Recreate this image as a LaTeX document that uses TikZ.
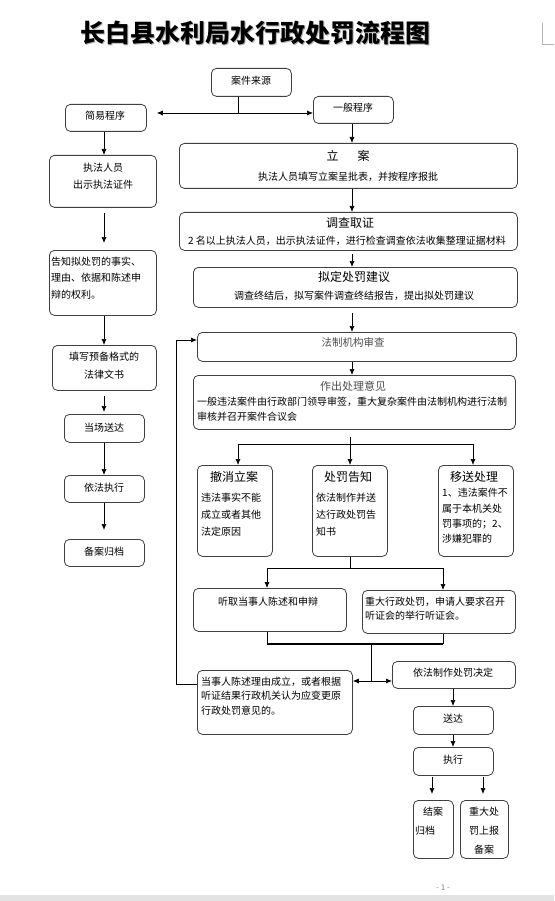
\documentclass[tikz,border=0pt]{standalone}
\usepackage{fontspec}
\setmainfont{Noto Sans CJK SC}
\usetikzlibrary{arrows.meta,calc}
\newcommand\Bx[5]{\node[box,minimum width={#4pt-#2pt},minimum height={#5pt-#3pt}] (#1) at (#2,#3) {};}
\newcommand\Tcen[4]{\node[tx] (#1) at (#2,#3) {#4};}
\newcommand\Tlft[4]{\node[txl] (#1) at (#2,#3) {#4};}
\newcommand\Thd[4]{\node[hd] (#1) at (#2,#3) {#4};}
\begin{document}
\begin{tikzpicture}[x=1pt,y=-1pt,
  box/.style={draw=black!75,line width=0.8pt,rounded corners=5pt,anchor=north west,inner sep=0pt},
  arr/.style={draw=black,line width=0.7pt,-{Latex[length=6pt,width=5pt]}},
  ln/.style={draw=black,line width=0.7pt},
  tx/.style={inner sep=0pt,font=\fontsize{10}{12}\selectfont,text=black},
  txl/.style={tx,anchor=west},
  hd/.style={inner sep=0pt,font=\fontsize{12}{14}\selectfont,text=black},
  hdg/.style={hd,text=black!70},
]
\useasboundingbox (0,0) rectangle (554,901);
\fill[white] (0,0) rectangle (554,901);
% page decorations
\fill[black!11] (0,895) rectangle (554,901);
\draw[black!30,line width=0.6pt] (542,23) -- (542,44) -- (554,44);
\node[inner sep=0,font=\fontsize{8}{9}\selectfont,text=black!50] (pagenum) at (443,888) {- 1 -};
% title
\node[inner sep=0,font=\fontsize{25}{27}\selectfont\bfseries,text=black!30] (titleshadow) at (256.5,34.5) {长白县水利局水行政处罚流程图};
\node[inner sep=0,font=\fontsize{25}{27}\selectfont\bfseries] (title) at (255,33) {长白县水利局水行政处罚流程图};

% top
\Bx{src}{211}{68}{291}{96}
\Tcen{tsrc}{251}{81}{案件来源}
\Bx{jianyi}{65}{104}{146}{131}
\Tcen{tjianyi}{105}{116}{简易程序}
\Bx{yiban}{313}{96}{393}{123}
\Tcen{tyiban}{353}{108}{一般程序}
\coordinate (j0) at (238,113);
\draw[ln] (src.south -| j0) -- (j0);
\draw[arr,shorten >=10pt] (j0) -- (jianyi.east |- j0);
\draw[arr] (j0) -- (yiban.west |- j0);

% main column
\coordinate (M) at (352,0);
\Bx{lian}{179}{143}{517}{188}
\Thd{tlian1}{348}{156}{立\hspace{19pt}案}
\Tcen{tlian2}{348}{177}{执法人员填写立案呈批表，并按程序报批}
\Bx{diaocha}{179}{212}{517}{250}
\Thd{tdiaocha1}{350}{223}{调查取证}
\Tcen{tdiaocha2}{347}{241}{2 名以上执法人员，出示执法证件，进行检查调查依法收集整理证据材料}
\Bx{niding}{193}{267}{517}{307}
\Thd{tniding1}{354}{277}{拟定处罚建议}
\Tcen{tniding2}{354}{296}{调查终结后，拟写案件调查终结报告，提出拟处罚建议}
\Bx{fazhi}{197}{332}{516}{361}
\node[hdg,font=\fontsize{10.5}{12}\selectfont] (tfazhi) at (353,342) {法制机构审查};
\Bx{zuochu}{193}{375}{515}{429}
\node[hdg,font=\fontsize{11}{13}\selectfont] (tzuochu) at (353,386) {作出处理意见};
\Tlft{tzuochu2}{197}{402}{一般违法案件由行政部门领导审签，重大复杂案件由法制机构进行法制}
\Tlft{tzuochu3}{197}{417}{审核并召开案件合议会}

\draw[arr] (yiban.south -| M) -- (lian.north -| M);
\draw[arr] (lian.south -| M) -- (diaocha.north -| M);
\draw[arr,shorten <=3pt] (diaocha.south -| M) -- (niding.north -| M);
\draw[arr,shorten <=5pt] (niding.south -| M) -- (fazhi.north -| M);
\draw[arr] (fazhi.south -| M) -- (zuochu.north -| M);

% three branches
\Bx{chexiao}{197}{465}{272}{556}
\Thd{tchexiao}{234}{477}{撤消立案}
\Tlft{tchexiao1}{201}{498}{违法事实不能}
\Tlft{tchexiao2}{201}{515}{成立或者其他}
\Tlft{tchexiao3}{201}{532}{法定原因}
\Bx{chufa}{312}{465}{387}{556}
\Thd{tchufa}{348}{477}{处罚告知}
\Tlft{tchufa1}{316}{498}{依法制作并送}
\Tlft{tchufa2}{316}{515}{达行政处罚告}
\Tlft{tchufa3}{316}{532}{知书}
\Bx{yisong}{438}{465}{513}{556}
\Thd{tyisong}{474}{477}{移送处理}
\Tlft{tyisong1}{442}{493}{1、违法案件不}
\Tlft{tyisong2}{442}{509}{属于本机关处}
\Tlft{tyisong3}{442}{524}{罚事项的；2、}
\Tlft{tyisong4}{442}{539}{涉嫌犯罪的}

\coordinate (b1) at (350,444);
\coordinate (b1l) at (238,444);
\coordinate (b1r) at (473,444);
\draw[ln,shorten <=7pt] (zuochu.south -| b1) -- (b1);
\draw[ln] (b1l) -- (b1r);
\draw[arr] (b1l) -- (chexiao.north -| b1l);
\draw[arr] (b1) -- (chufa.north -| b1);
\draw[arr] (b1r) -- (yisong.north -| b1r);

% hearing
\Bx{tingqu}{193}{588}{346}{631}
\Tcen{ttingqu}{268}{602}{听取当事人陈述和申辩}
\Bx{zhongda}{362}{590}{515}{633}
\Tlft{tzhongda1}{365}{602}{重大行政处罚，申请人要求召开}
\Tlft{tzhongda2}{365}{616}{听证会的举行听证会。}
\coordinate (b2) at (350,568);
\coordinate (b2l) at (267,568);
\coordinate (b2r) at (443,568);
\draw[ln] (chufa.south -| b2) -- (b2);
\draw[ln] (b2l) -- (b2r);
\draw[arr] (b2l) -- (tingqu.north -| b2l);
\draw[arr] (b2r) -- (zhongda.north -| b2r);
\coordinate (b3l) at (267,644);
\coordinate (b3r) at (443,644);
\draw[ln] (tingqu.south -| b3l) -- (b3l);
\draw[ln] (zhongda.south -| b3r) -- (b3r);
\draw[black,line width=2pt] ([xshift=-0.35pt]b3l) -- ([xshift=0.35pt]b3r);

% decision
\Bx{dangshi}{197}{670}{352}{734}
\Tlft{tdangshi1}{201}{682}{当事人陈述理由成立，或者根据}
\Tlft{tdangshi2}{201}{696}{听证结果行政机关认为应变更原}
\Tlft{tdangshi3}{201}{711}{行政处罚意见的。}
\Bx{yifa}{392}{661}{515}{688}
\Tcen{tyifa}{453}{673}{依法制作处罚决定}
\coordinate (b4t) at (371,644);
\coordinate (b4) at (371,681);
\draw[ln] (b4t) -- (b4);
\draw[arr] (b4) -- (dangshi.east |- b4);
\draw[arr] (b4) -- (yifa.west |- b4);

% feedback
\coordinate (fb1) at (176,684);
\coordinate (fb2) at (176,340);
\draw[arr] (dangshi.west |- fb1) -- (fb1) -- (fb2) -- (fazhi.west |- fb2);

% execution
\coordinate (E) at (453,0);
\Bx{songda}{413}{706}{493}{734}
\Tcen{tsongda}{453}{719}{送达}
\Bx{zhixing}{413}{747}{493}{775}
\Tcen{tzhixing}{453}{760}{执行}
\draw[arr] (yifa.south -| E) -- (songda.north -| E);
\draw[arr] (songda.south -| E) -- (zhixing.north -| E);
\Bx{jiean}{413}{800}{453}{858}
\Tcen{tjiean1}{433}{812}{结案}
\Tcen{tjiean2}{425}{831}{归档}
\Bx{zdcf}{460}{800}{508}{858}
\Tcen{tzdcf1}{484}{812}{重大处}
\Tcen{tzdcf2}{484}{831}{罚上报}
\Tcen{tzdcf3}{484}{850}{备案}
\coordinate (e1) at (432,0);
\coordinate (e2) at (483,0);
\draw[arr,shorten <=1pt,shorten >=6pt] (zhixing.south -| e1) -- (jiean.north -| e1);
\draw[arr,shorten <=1pt,shorten >=6pt] (zhixing.south -| e2) -- (zdcf.north -| e2);

% left column
\coordinate (L) at (104,0);
\Bx{zhifa}{49}{155}{156}{207}
\Tcen{tzhifa1}{103}{168}{执法人员}
\Tcen{tzhifa2}{103}{185}{出示执法证件}
\Bx{gaozhi}{49}{250}{156}{315}
\Tlft{tgaozhi1}{51}{262}{告知拟处罚的事实、}
\Tlft{tgaozhi2}{51}{278}{理由、依据和陈述申}
\Tlft{tgaozhi3}{51}{295}{辩的权利。}
\Bx{tianxie}{52}{345}{156}{390}
\Tcen{ttianxie1}{104}{357}{填写预备格式的}
\Tcen{ttianxie2}{104}{375}{法律文书}
\Bx{dangchang}{64}{414}{144}{442}
\Tcen{tdangchang}{104}{428}{当场送达}
\Bx{yifazx}{64}{475}{144}{502}
\Tcen{tyifazx}{104}{488}{依法执行}
\Bx{beian}{64}{539}{144}{566}
\Tcen{tbeian}{104}{552}{备案归档}

\draw[arr] (jianyi.south -| L) -- (zhifa.north -| L);
\draw[arr,shorten <=5pt,shorten >=7pt] (zhifa.south -| L) -- (gaozhi.north -| L);
\draw[arr] (gaozhi.south -| L) -- (tianxie.north -| L);
\draw[arr,shorten <=5pt,shorten >=2pt] (tianxie.south -| L) -- (dangchang.north -| L);
\draw[arr] (dangchang.south -| L) -- (yifazx.north -| L);
\draw[arr,shorten >=9pt] (yifazx.south -| L) -- (beian.north -| L);
\end{tikzpicture}
\end{document}
